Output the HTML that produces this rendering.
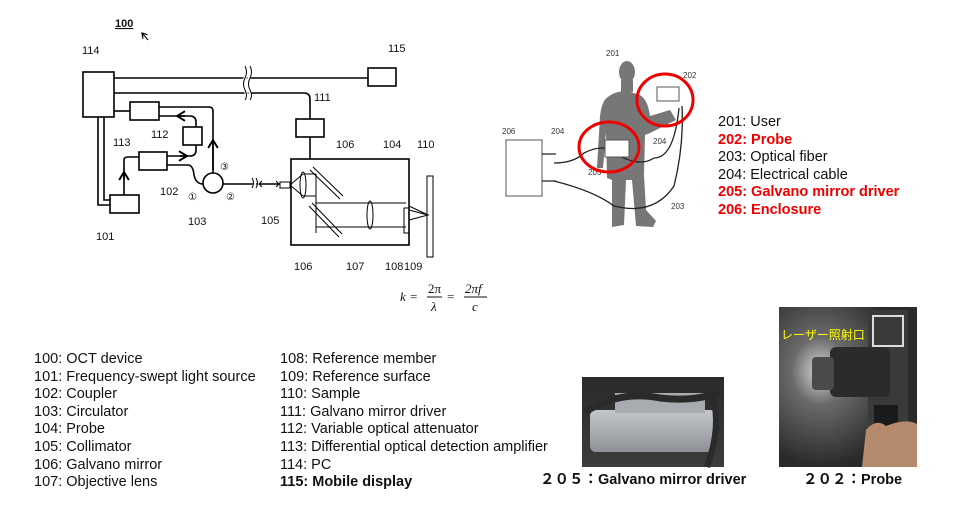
<!DOCTYPE html>
<html><head><meta charset="utf-8"><style>
body{margin:0;background:#fff;width:955px;height:526px;overflow:hidden;position:relative;font-family:"Liberation Sans",Arial,sans-serif}
.t{position:absolute;font-size:14.5px;line-height:17.6px;color:#111;white-space:pre}
</style></head><body>
<svg width="955" height="526" style="position:absolute;left:0;top:0" font-family="Liberation Sans, sans-serif">
<defs><marker id="a" markerWidth="8" markerHeight="8" refX="6" refY="4" orient="auto"><path d="M1,1 L6,4 L1,7" fill="none" stroke="#000" stroke-width="1.2"/></marker>
<radialGradient id="halo" cx="0.3" cy="0.4" r="0.6"><stop offset="0" stop-color="#d8d8d8"/><stop offset="0.35" stop-color="#6a6a6a"/><stop offset="1" stop-color="#2a2a2a"/></radialGradient>
<linearGradient id="gbg" x1="0" y1="0" x2="0" y2="1"><stop offset="0" stop-color="#2a2a2a"/><stop offset="1" stop-color="#3c3c3c"/></linearGradient>
<linearGradient id="gbox" x1="0" y1="0" x2="0" y2="1"><stop offset="0" stop-color="#c4c7ca"/><stop offset="1" stop-color="#8e9296"/></linearGradient>
</defs>
<g stroke="#000" stroke-width="1.6" fill="none">
<rect x="83" y="72" width="31" height="45" fill="#fff"/>
<rect x="368" y="68" width="28" height="18"/>
<rect x="296" y="119" width="28" height="18"/>
<rect x="291" y="159" width="118" height="86"/>
<rect x="130" y="102" width="29" height="18"/>
<rect x="183" y="127" width="19" height="18"/>
<rect x="139" y="152" width="28" height="18"/>
<rect x="110" y="195" width="29" height="18"/>
<rect x="427" y="176" width="6" height="81" stroke-width="1"/>
<rect x="404" y="208" width="5" height="25" stroke-width="1"/>
<rect x="280" y="182" width="10" height="6" stroke-width="1"/>
<path d="M114 78 H368"/>
<path d="M114 93 H304 Q310 93 310 99 V119"/>
<path d="M310 137 V159"/>
<path d="M114 111 H130"/>
<path d="M159 107 H209 Q213 107 213 111 V173"/>
<path d="M213 170 V140" marker-end="url(#a)"/>
<path d="M159 116 H190 Q196 116 196 122 V127" /><path d="M185 116 H177" marker-end="url(#a)"/>
<path d="M196 145 V150 Q196 156 190 156 H167"/><path d="M180 156 H187" marker-end="url(#a)"/>
<path d="M98 117 V205 H110"/><path d="M104 117 V200 H110"/>
<path d="M124 195 V160 Q124 157 128 157 H139"/><path d="M124 180 V172" marker-end="url(#a)"/>
<path d="M167 165 H188 Q193 165 194 175 Q196 184 203 184"/>
<circle cx="213" cy="183" r="10"/>
<path d="M223 184 H280"/>
</g>
<g stroke="#000" stroke-width="1" fill="none">
<path d="M253 178 q3 5 0 10 M257 178 q3 5 0 10" stroke="#fff" stroke-width="3"/>
<path d="M252 178 q3 5 0 10 M256 178 q3 5 0 10"/>
<path d="M245 66 q3 6 0 12 q-3 6 0 12 q3 6 0 10 M249 66 q3 6 0 12 q-3 6 0 12 q3 6 0 10" stroke="#fff" stroke-width="3"/>
<path d="M245 66 q3 6 0 12 q-3 6 0 12 q3 6 0 10 M250 66 q3 6 0 12 q-3 6 0 12 q3 6 0 10"/>
<path d="M260 184 H278 M262 181 L259 184 L262 187 M276 181 L279 184 L276 187"/>
<path d="M290 185 L303 174 M290 185 L303 196"/>
<ellipse cx="303" cy="185" rx="3" ry="13"/>
<path d="M303 174 H316 M303 196 H316 M316 174 V233"/>
<path d="M313 167 L343 196 M310 170 L340 199"/>
<path d="M312 203 L342 234 M309 206 L339 237"/>
<path d="M316 203 H406 M316 227 H406"/>
<ellipse cx="370" cy="215" rx="3" ry="14"/>
<path d="M409 210 L428 215 L409 220 M409 206 L428 215"/>
<path d="M148 40 L142 33" marker-end="url(#a)"/>
</g>
<g font-size="11" fill="#111">
<text x="115" y="27" font-weight="bold" text-decoration="underline">100</text>
<text x="82" y="54">114</text><text x="388" y="52">115</text><text x="314" y="101">111</text>
<text x="113" y="146">113</text><text x="151" y="138">112</text><text x="160" y="195">102</text>
<text x="96" y="240">101</text><text x="188" y="225">103</text><text x="261" y="224">105</text>
<text x="336" y="148">106</text><text x="383" y="148">104</text><text x="417" y="148">110</text>
<text x="294" y="270">106</text><text x="346" y="270">107</text><text x="385" y="270">108</text><text x="404" y="270">109</text>
<text x="188" y="200" font-size="10">①</text><text x="220" y="170" font-size="10">③</text><text x="226" y="200" font-size="10">②</text>
</g>
<g font-family="Liberation Serif, serif" font-style="italic" font-size="13" fill="#111">
<text x="400" y="301">k</text><text x="410" y="301" font-style="normal">=</text>
<text x="428" y="293" font-style="normal">2π</text><line x1="427" y1="297" x2="442" y2="297" stroke="#111"/><text x="431" y="311">λ</text>
<text x="447" y="301" font-style="normal">=</text>
<text x="465" y="293">2πf</text><line x1="464" y1="297" x2="487" y2="297" stroke="#111"/><text x="472" y="311">c</text>
</g>
<ellipse cx="627" cy="72" rx="8" ry="11" fill="#777"/>
<path d="M621 80 H633 V92 H621Z M608 97 Q615 91 627 91 L640 95 Q648 100 650 116 L670 110 L676 120 L650 133 L645 135 L644 175 L646 210 L656 221 L653 227 L636 226 L632 180 L626 180 L624 225 L612 227 L612 180 L607 178 L606 132 L603 168 L597 168 L600 116 Q602 100 608 97 Z" fill="#777"/>
<g font-size="8" fill="#333">
<rect x="506" y="140" width="36" height="56" fill="#fff" stroke="#555"/>
<text x="502" y="134">206</text><text x="551" y="134">204</text><text x="606" y="56">201</text><text x="683" y="78">202</text><text x="653" y="144">204</text><text x="671" y="209">203</text><text x="588" y="175">205</text>
</g>
<g fill="none" stroke="#222" stroke-width="1.3">
<path d="M554 163 q20 0 30-10 q20-10 30 0 q25 15 40 5 q20 0 25-50"/>
<path d="M554 181 q40 10 60 25 q40 10 60-20 q10-40 8-80"/>
<path d="M542 154 h14 M542 181 h14"/>
</g>
<rect x="657" y="87" width="22" height="14" fill="#fff" stroke="#555"/>
<rect x="605" y="140" width="24" height="17" fill="#fff" stroke="#555"/>
<g fill="none" stroke="#e00" stroke-width="3">
<ellipse cx="609" cy="147" rx="30" ry="25"/>
<ellipse cx="665" cy="100" rx="28" ry="26"/>
</g>
<rect x="582" y="377" width="142" height="90" fill="url(#gbg)"/>
<rect x="590" y="410" width="126" height="42" rx="6" fill="url(#gbox)"/>
<rect x="615" y="393" width="90" height="20" fill="#a8abaf"/>
<path d="M585 412 q35-22 75-14 q35 4 60 -6" stroke="#2a2a2a" stroke-width="7" fill="none"/>
<path d="M712 395 q10 30 -5 72" stroke="#2a2a2a" stroke-width="6" fill="none"/>
<rect x="779" y="307" width="138" height="160" fill="url(#halo)"/>
<rect x="868" y="310" width="40" height="112" fill="#3a3a3a"/>
<rect x="873" y="316" width="30" height="30" fill="none" stroke="#ddd" stroke-width="2"/>
<rect x="830" y="347" width="60" height="50" rx="6" fill="#2b2b2b"/>
<rect x="812" y="357" width="22" height="33" rx="4" fill="#4a4a4a"/>
<rect x="874" y="405" width="24" height="62" fill="#1a1a1a"/>
<path d="M866 430 q10-12 20-4 q20-8 31-2 V467 H862Z" fill="#b58a6c"/>
<text x="781" y="339" font-size="12" fill="#ff0" font-family="Liberation Sans, Noto Sans CJK JP, sans-serif">レーザー照射口</text>
</svg>
<div class="t" style="left:34px;top:351px">100: OCT device
101: Frequency-swept light source
102: Coupler
103: Circulator
104: Probe
105: Collimator
106: Galvano mirror
107: Objective lens</div>
<div class="t" style="left:280px;top:351px">108: Reference member
109: Reference surface
110: Sample
111: Galvano mirror driver
112: Variable optical attenuator
113: Differential optical detection amplifier
114: PC
<b>115: Mobile display</b></div>
<div class="t" style="left:718px;top:114px">201: User
<b style="color:#e00">202: Probe</b>
203: Optical fiber
204: Electrical cable
<b style="color:#e00">205: Galvano mirror driver</b>
<b style="color:#e00">206: Enclosure</b></div>
<div class="t" style="left:540px;top:472px;font-size:14.5px;font-weight:bold;font-family:'Liberation Sans','Noto Sans CJK JP',sans-serif">２０５：Galvano mirror driver</div>
<div class="t" style="left:803px;top:472px;font-size:14.5px;font-weight:bold;font-family:'Liberation Sans','Noto Sans CJK JP',sans-serif">２０２：Probe</div>
</body></html>
